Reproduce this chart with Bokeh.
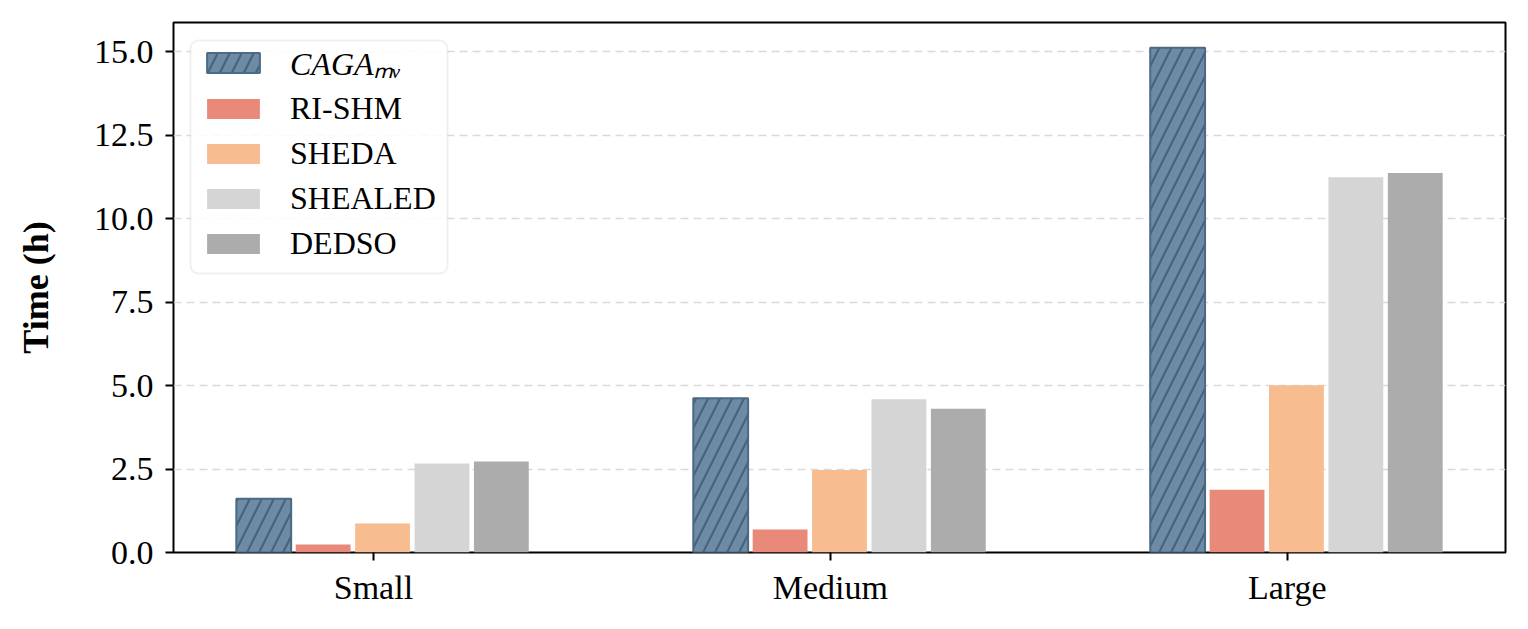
import numpy as np
from bokeh.plotting import figure
from bokeh.models import (Legend, LegendItem, FixedTicker, NumeralTickFormatter, Range1d,
                          BoxAnnotation)
from bokeh.embed import file_html
from bokeh.resources import INLINE

# ---- data ----
categories = ["Small", "Medium", "Large"]
methods = ["CAGAₘᵥ", "RI-SHM", "SHEDA", "SHEALED", "DEDSO"]
caga_mv = [1.61, 4.62, 15.12]
ri_shm = [0.24, 0.69, 1.88]
sheda = [0.87, 2.47, 5.01]
shealed = [2.67, 4.59, 11.24]
dedso = [2.73, 4.31, 11.37]
y_ticks = [0.0, 2.5, 5.0, 7.5, 10.0, 12.5, 15.0]

series = [caga_mv, ri_shm, sheda, shealed, dedso]
colors = ["#6d8ba4", "#e8897a", "#f7bc8f", "#d5d5d5", "#acacac"]

FONT = "Liberation Serif"

p = figure(width=1512, height=613, output_backend="svg", toolbar_location=None,
           x_range=Range1d(-0.4375, 2.4775), y_range=Range1d(0, 15.88),
           min_border_left=173, min_border_right=7, min_border_top=22, min_border_bottom=61)

p.background_fill_color = "white"
p.border_fill_color = "white"
p.outline_line_color = "black"
p.outline_line_width = 2

base = np.arange(len(categories))
bar_step = 0.13
bar_w = 0.12
renderers = []
for j, vals in enumerate(series):
    xs = base + (j - 2) * bar_step + 0.02
    if j == 0:
        r = p.vbar(x=xs, top=vals, width=bar_w, bottom=0,
                   fill_color=colors[j], line_color="#4b6a84", line_width=2,
                   hatch_pattern="/", hatch_color="#46647e", hatch_scale=24, hatch_weight=2.2)
    else:
        r = p.vbar(x=xs, top=vals, width=bar_w, bottom=0,
                   fill_color=colors[j], line_color=None)
    renderers.append(r)

# axes
p.xaxis.ticker = FixedTicker(ticks=list(base))
p.xaxis.major_label_overrides = {int(i): c for i, c in zip(base, categories)}
p.yaxis.ticker = FixedTicker(ticks=y_ticks)
p.yaxis.formatter = NumeralTickFormatter(format="0.0")
for ax in (p.xaxis, p.yaxis):
    ax.axis_line_color = None
    ax.major_tick_out = 8
    ax.major_tick_in = 0
    ax.major_tick_line_width = 2
    ax.major_tick_line_color = "black"
    ax.minor_tick_line_color = None
    ax.major_label_text_font = FONT
    ax.major_label_text_font_size = "34px"
    ax.major_label_text_color = "black"
p.xaxis.major_label_standoff = 8
p.yaxis.major_label_standoff = 12
p.yaxis.axis_label = "Time (h)"
p.yaxis.axis_label_text_font = FONT
p.yaxis.axis_label_text_font_size = "36px"
p.yaxis.axis_label_text_font_style = "bold"
p.yaxis.axis_label_text_color = "black"
p.yaxis.axis_label_standoff = 35

p.xgrid.grid_line_color = None
p.ygrid.grid_line_color = "#d9d9d9"
p.ygrid.grid_line_width = 1.5
p.ygrid.grid_line_dash = "8 5"

# legend frame (screen units, relative to plot frame)
frame_box = BoxAnnotation(left=17, right=274, top=512, bottom=279,
                          left_units="screen", right_units="screen",
                          top_units="screen", bottom_units="screen",
                          fill_color="white", fill_alpha=0.85,
                          line_color="#cccccc", line_width=2, border_radius=8)
p.add_layout(frame_box)

common = dict(label_text_font=FONT, label_text_font_size="32px", label_text_color="black",
              glyph_width=66, glyph_height=25, label_standoff=24, label_height=45,
              spacing=0, padding=0, border_line_alpha=0, background_fill_alpha=0)

legend_a = Legend(items=[LegendItem(label=methods[0], renderers=[renderers[0]])],
                  location=(27, 467.5), label_text_font_style="italic", **common)
legend_b = Legend(items=[LegendItem(label=methods[j], renderers=[renderers[j]]) for j in range(1, 5)],
                  location=(27, 286.5), **common)
p.add_layout(legend_a)
p.add_layout(legend_b)

open("out.html", "w").write(file_html(p, INLINE))
